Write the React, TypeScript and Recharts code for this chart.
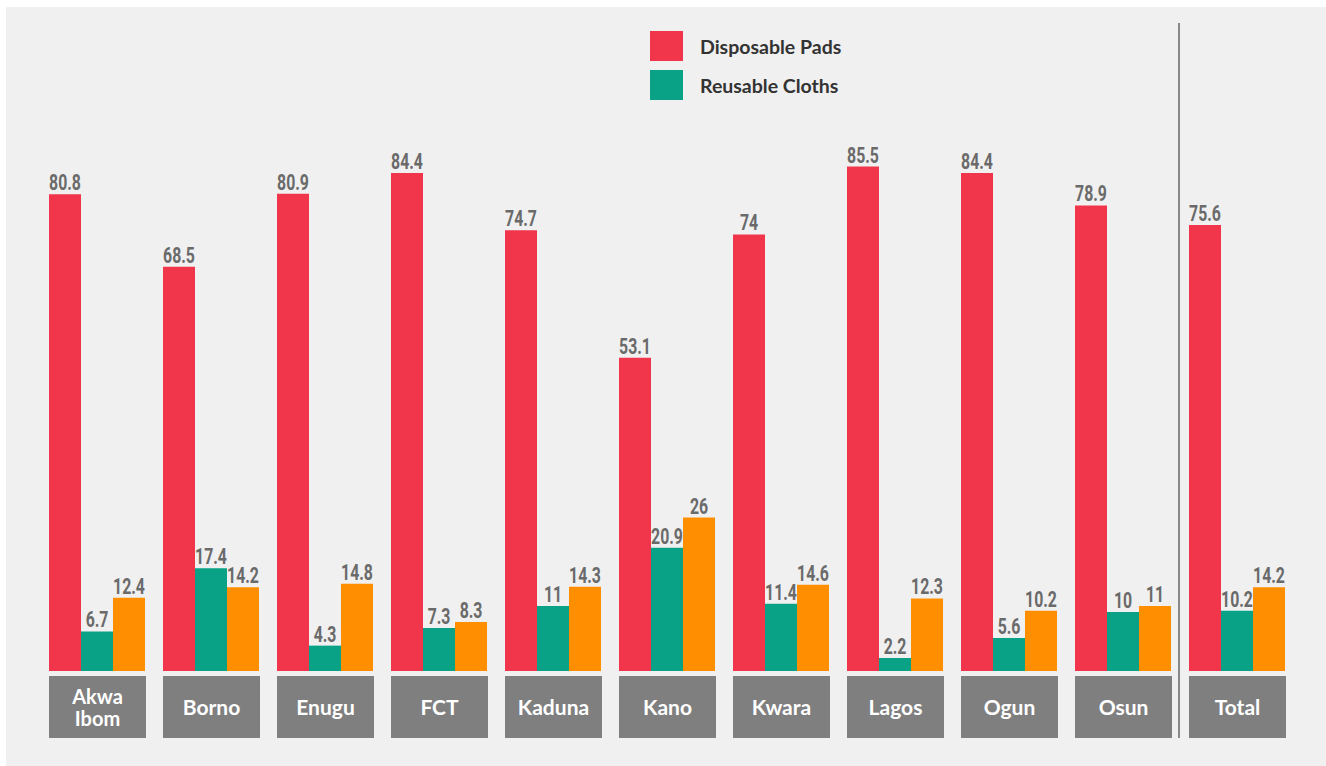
import React from "react";
import { BarChart, Bar, XAxis, YAxis, Legend, LabelList } from "recharts";

const categories = ["Akwa Ibom", "Borno", "Enugu", "FCT", "Kaduna", "Kano", "Kwara", "Lagos", "Ogun", "Osun", "Total"];
const disposablePads = [80.8, 68.5, 80.9, 84.4, 74.7, 53.1, 74, 85.5, 84.4, 78.9, 75.6];
const reusableCloths = [6.7, 17.4, 4.3, 7.3, 11, 20.9, 11.4, 2.2, 5.6, 10, 10.2];
const otherMethods = [12.4, 14.2, 14.8, 8.3, 14.3, 26, 14.6, 12.3, 10.2, 11, 14.2];

const RED = "#f1354b";
const TEAL = "#0aa287";
const ORANGE = "#ff8f00";
const BOX_GREY = "#7f7f7f";
const LABEL_GREY = "#6a6a6a";

const data = categories.map((name, i) => ({
  name,
  disposable: disposablePads[i],
  reusable: reusableCloths[i],
  other: otherMethods[i],
}));

function CategoryTick({ x, y, payload }: any) {
  const lines: string[] = String(payload.value).split(" ");
  const w = 97;
  const h = 62;
  const mid = y + h / 2;
  const lh = 22;
  const first = mid + 7.5 - ((lines.length - 1) * lh) / 2;
  return (
    <g>
      <rect x={x - w / 2} y={y} width={w} height={h} fill={BOX_GREY} />
      {lines.map((l, i) => (
        <text
          key={l}
          x={x}
          y={first + i * lh}
          textAnchor="middle"
          fill="#ffffff"
          fontFamily="Lato, 'Noto Sans', sans-serif"
          fontWeight={700}
          fontSize={lines.length > 1 ? 20 : 21}
        >
          {l}
        </text>
      ))}
    </g>
  );
}

// condensed value label above each bar
function ValueLabel({ x, y, width, value }: any) {
  const cx = x + width / 2;
  const by = y - 4;
  return (
    <text
      transform={`translate(${cx},${by}) scale(0.72,1)`}
      textAnchor="middle"
      fill={LABEL_GREY}
      fontFamily="Roboto, 'Noto Sans', sans-serif"
      fontWeight={700}
      fontSize={22}
    >
      {value}
    </text>
  );
}

function LegendBox({ payload }: any) {
  const items = (payload || []).filter((p: any) => p.type !== "none");
  return (
    <div style={{ display: "flex", flexDirection: "column", gap: 9 }}>
      {items.map((p: any) => (
        <div key={p.value} style={{ display: "flex", alignItems: "center", height: 30 }}>
          <span style={{ display: "inline-block", width: 33, height: 30, background: p.color }} />
          <span
            style={{
              marginLeft: 17,
              fontFamily: "Lato, 'Noto Sans', sans-serif",
              fontWeight: 700,
              fontSize: 19.5,
              color: "#333333",
            }}
          >
            {p.value}
          </span>
        </div>
      ))}
    </div>
  );
}

export default function App() {
  return (
    <div style={{ position: "absolute", left: 0, top: 0, width: 1326, height: 766, background: "#ffffff" }}>
      <div style={{ position: "absolute", left: 6, top: 7, width: 1320, height: 759, background: "#f0f0f0" }} />
      <div style={{ position: "absolute", left: 1178, top: 23, width: 2, height: 715, background: "#888888" }} />
      <div style={{ position: "absolute", left: 0, top: 0 }}>
        <BarChart
          width={1326}
          height={766}
          data={data}
          margin={{ top: 140, right: 31.5, left: 40.5, bottom: 25 }}
          barCategoryGap={8.5}
          barGap={0}
        >
          <XAxis
            dataKey="name"
            axisLine={false}
            tickLine={false}
            tickSize={0}
            tickMargin={5}
            height={70}
            interval={0}
            tick={<CategoryTick />}
          />
          <YAxis hide domain={[0, 90]} />
          <Legend
            layout="vertical"
            verticalAlign="middle"
            align="center"
            content={<LegendBox />}
            wrapperStyle={{ position: "absolute", left: 650, top: 31, width: 260 }}
          />
          <Bar dataKey="disposable" name="Disposable Pads" fill={RED} isAnimationActive={false}>
            <LabelList dataKey="disposable" content={<ValueLabel />} />
          </Bar>
          <Bar dataKey="reusable" name="Reusable Cloths" fill={TEAL} isAnimationActive={false}>
            <LabelList dataKey="reusable" content={<ValueLabel />} />
          </Bar>
          <Bar dataKey="other" name="Other" fill={ORANGE} legendType="none" isAnimationActive={false}>
            <LabelList dataKey="other" content={<ValueLabel />} />
          </Bar>
        </BarChart>
      </div>
    </div>
  );
}
